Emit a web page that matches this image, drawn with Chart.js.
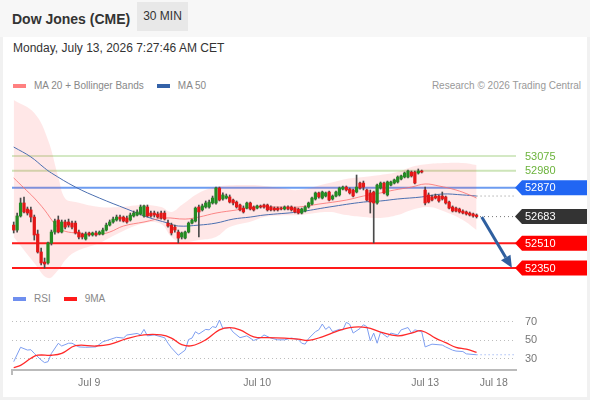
<!DOCTYPE html>
<html>
<head>
<meta charset="utf-8">
<script src="https://cdn.jsdelivr.net/npm/chart.js@4.4.1/dist/chart.umd.min.js"></script>
<style>
  body { margin: 0; width: 590px; height: 400px; background: #f1f1f1; font-family: "Liberation Sans", Arial, sans-serif; position: relative; overflow: hidden; }
  .header { position: absolute; left: 0; top: 0; width: 590px; height: 37px; background: #f7f7f7; }
  .title { position: absolute; left: 12px; top: 11px; font-size: 14px; font-weight: bold; color: #333; }
  .tf { position: absolute; left: 137px; top: 2px; width: 51px; height: 29px; line-height: 29px; text-align: center; background: #e8e8e8; font-size: 12px; color: #333; }
  .card { position: absolute; left: 3px; top: 37px; width: 584px; height: 360px; background: #fff; }
  .date { position: absolute; left: 13px; top: 41px; font-size: 12px; color: #333; }
  .legend { position: absolute; left: 13px; font-size: 10px; color: #888; display: flex; align-items: center; white-space: nowrap; }
  .legend .sw { display: inline-block; width: 13px; height: 4px; margin-right: 8px; }
  .legend .item { display: flex; align-items: center; margin-right: 13px; }
  .credit { position: absolute; right: 9px; top: 80px; font-size: 10px; color: #999; }
  canvas { position: absolute; left: 0; }
</style>
</head>
<body>
<div class="header">
  <div class="title">Dow Jones (CME)</div>
  <div class="tf">30 MIN</div>
</div>
<div class="card"></div>
<div class="date">Monday, July 13, 2026 7:27:46 AM CET</div>
<div class="legend" style="top:80px">
  <span class="item"><span class="sw" style="background:#ff8080"></span>MA 20 + Bollinger Bands</span>
  <span class="item"><span class="sw" style="background:#3462a8"></span>MA 50</span>
</div>
<div class="credit">Research © 2026 Trading Central</div>
<div class="legend" style="top:293px">
  <span class="item"><span class="sw" style="background:#6f8fef"></span>RSI</span>
  <span class="item"><span class="sw" style="background:#ff1a1a"></span>9MA</span>
</div>
<canvas id="priceChart" width="590" height="196" style="top:90px"></canvas>
<canvas id="rsiChart" width="590" height="90" style="top:305px"></canvas>

<script>
// 30-minute candles, oldest first
const openP = [52628,52596,52687,52771,52732,52726,52680,52570,52454,52389,52383,52512,52583,52661,52583,52648,52648,52641,52641,52583,
  52570,52538,52577,52564,52577,52570,52570,52596,52628,52648,52661,52680,52680,52674,52661,52687,52693,52700,52687,52745,
  52706,52706,52700,52706,52706,52641,52628,52615,52583,52551,52544,52583,52641,52654,52745,52726,52745,52745,52771,52771,
  52868,52797,52803,52810,52790,52777,52758,52738,52738,52771,52745,52738,52752,52758,52758,52745,52738,52738,52738,52732,
  52745,52745,52738,52732,52706,52719,52745,52764,52797,52836,52803,52816,52842,52797,52816,52823,52861,52874,52861,52855,
  52842,52900,52900,52855,52836,52842,52771,52868,52900,52823,52887,52900,52907,52926,52939,52939,52971,52971,52965,52978,
  52855,52823,52810,52816,52816,52816,52810,52777,52745,52738,52732,52719,52713,52706,52700,52693];
const highP = [52648,52706,52803,52810,52745,52745,52693,52596,52480,52415,52518,52596,52667,52687,52661,52661,52667,52654,52654,52596,
  52577,52583,52583,52583,52590,52590,52609,52641,52661,52680,52693,52693,52687,52687,52706,52719,52726,52758,52758,52758,
  52719,52719,52713,52719,52719,52661,52641,52628,52596,52583,52590,52648,52667,52745,52758,52764,52784,52790,52816,52874,
  52874,52836,52829,52823,52797,52784,52764,52752,52777,52777,52752,52758,52758,52764,52764,52752,52745,52745,52745,52752,
  52752,52752,52745,52738,52738,52752,52777,52810,52842,52842,52848,52842,52848,52823,52848,52874,52881,52881,52868,52861,
  52952,52907,52913,52861,52855,52848,52894,52907,52907,52913,52913,52926,52946,52952,52971,52984,52978,52978,52991,52984,
  52874,52836,52823,52829,52823,52842,52816,52784,52752,52745,52738,52726,52719,52713,52706,52700];
const lowP = [52577,52583,52680,52706,52693,52648,52531,52447,52370,52350,52376,52499,52570,52577,52577,52603,52615,52603,52570,52538,
  52538,52531,52557,52557,52557,52564,52564,52590,52622,52641,52654,52654,52648,52641,52654,52680,52687,52693,52680,52680,
  52680,52680,52674,52667,52661,52615,52564,52583,52512,52538,52538,52577,52635,52648,52551,52719,52738,52738,52764,52764,
  52784,52790,52797,52771,52758,52738,52719,52706,52732,52726,52719,52732,52738,52738,52719,52719,52719,52719,52726,52726,
  52726,52719,52706,52700,52700,52713,52738,52758,52790,52803,52797,52810,52784,52790,52810,52816,52855,52848,52829,52810,
  52836,52861,52855,52784,52706,52512,52764,52861,52829,52816,52881,52894,52900,52920,52933,52933,52939,52894,52958,52965,
  52758,52771,52784,52797,52777,52790,52764,52732,52713,52713,52706,52700,52693,52687,52680,52674];
const closeP = [52596,52687,52771,52713,52706,52680,52564,52454,52383,52376,52512,52583,52654,52583,52648,52615,52628,52615,52577,52551,
  52551,52570,52564,52577,52564,52583,52596,52628,52648,52667,52680,52667,52654,52648,52693,52706,52713,52745,52752,52687,
  52687,52693,52680,52674,52667,52622,52577,52596,52544,52577,52583,52641,52661,52738,52713,52752,52771,52777,52803,52868,
  52790,52823,52816,52777,52771,52745,52726,52713,52771,52732,52726,52752,52745,52745,52726,52726,52726,52726,52732,52745,
  52732,52726,52713,52706,52732,52745,52771,52803,52836,52810,52842,52836,52790,52816,52842,52868,52874,52855,52836,52816,
  52874,52868,52874,52790,52777,52771,52887,52900,52836,52907,52907,52920,52939,52946,52965,52978,52946,52900,52978,52971,
  52771,52777,52790,52803,52784,52797,52771,52738,52719,52719,52713,52706,52700,52693,52687,52683];

// indicator readings as [slot, value]
const ma20 = [[0,52933],[3,52868],[6,52803],[9,52726],[12,52635],[14,52596],[18,52577],[25,52570],[28,52583],[32,52622],
  [38,52648],[44,52674],[50,52667],[54,52680],[59,52706],[65,52726],[70,52745],[78,52745],[83,52745],[89,52764],
  [97,52790],[102,52816],[107,52836],[111,52855],[116,52874],[120,52894],[124,52881],[129,52855],[133,52823],[135,52803]];
const ma50 = [[0,53133],[5,53069],[9,52997],[11,52965],[18,52874],[25,52803],[33,52732],[39,52680],[45,52641],[48,52622],
  [54,52628],[59,52641],[64,52667],[69,52680],[73,52693],[83,52713],[92,52745],[102,52777],[107,52784],[112,52797],
  [119,52810],[125,52829],[131,52823],[135,52816]];
const bbSlots = [0,6,10,13,15,18,25,31,38,43,46,49,54,59,63,69,73,78,83,92,97,102,107,112,116,121,126,131,135];
const bbUpper = [53437,53353,53179,52939,52800,52777,52745,52745,52758,52745,52713,52758,52836,52874,52885,52887,52881,52868,52855,52900,
  52926,52939,52952,52971,53004,53023,53030,53030,53017];
const bbLower = [52551,52383,52285,52337,52400,52455,52512,52580,52640,52635,52551,52518,52531,52551,52615,52650,52680,52690,52693,52713,
  52693,52680,52674,52693,52726,52745,52713,52661,52596];

const rsi = [[0,26],[2,41.6],[4,38.6],[5,39],[6,35],[8,27.8],[9,25],[10,26],[11,35],[13,45.9],[14,43],[16,46],[17,46],[19,42],
  [21,41.6],[24,42],[26,47.6],[30,52.4],[32,51.6],[33,54.9],[36,56.6],[37,55],[38,61],[39,54],[41,55],[44,52],[45,46],[46,41],
  [48,33],[50,38.5],[51,50],[52,51.6],[53,58.5],[54,56],[56,61],[57,60.5],[58,64],[59,63],[60,71],[61,62],[63,63],[64,58],
  [66,52],[68,54],[70,49],[72,52],[73,55],[75,51.6],[77,49.7],[79,49.7],[81,51.6],[83,50],[84,46],[85,45],[86,51],[88,58.5],
  [89,60.5],[90,66.8],[91,61],[92,64],[93,58.5],[95,61],[96,60.5],[97,68.6],[98,66.5],[99,57],[101,62],[102,66],[103,64],
  [104,48.7],[105,57],[106,46],[107,58],[109,52.5],[110,57],[112,55],[113,60.5],[115,63],[116,57],[117,60.5],[119,58.5],
  [120,42],[122,45],[125,44],[126,42],[128,38.5],[129,37.5],[131,37],[132,34.5],[135,33.5]];
const rsiMa = [[0,19.5],[2,22],[5,29.7],[7,33],[11,33],[14,35],[18,43.3],[24,43],[28,44.8],[33,51],[38,55],[43,55],[46,51.6],
  [49,44.5],[52,43.3],[56,49.7],[60,60.5],[63,63],[66,60.5],[70,53],[74,52],[79,51.6],[83,50.5],[86,49],[90,53],[94,58.5],
  [98,63],[103,63],[107,58],[112,54],[116,57],[119,59.5],[123,51.6],[126,46.6],[129,41.6],[132,39.5],[135,36]];
const rsiTail = [[135,33.5],[146,33.5]];

const slotCount = 147;
const xTickSlots = [22, 71, 120, 140];
const xTickText = ["Jul 9", "Jul 10", "Jul 13", "Jul 18"];

const levelPrices = [53075, 52980, 52870, 52510, 52350];
const levelLine = ["#a9d38a", "#cde5b9", "#6d9cf0", "#ff1a1a", "#ff1a1a"];
const levelWidth = [1, 2, 2, 2, 2];
const levelTag = [null, null, "#2166f3", "#ff0000", "#ff0000"];
const ma50Tail = [[135,52816],[146,52816]];
const lastTail = [[136,52683],[146,52683]];
const arrowFrom = [136.5, 52680];
const arrowTo = [145.3, 52352];
const rsiLevels = [70, 50, 30];

Chart.defaults.font.family = "'Liberation Sans', Arial, sans-serif";

const slots = Array.from({ length: slotCount }, (_, i) => i);
const pts = arr => arr.map(([x, y]) => ({ x, y }));
const upColor = "#238b23";
const downColor = "#e31717";
const bodyColors = openP.map((o, i) => closeP[i] >= o ? upColor : downColor);

function drawTag(ctx, x, y, fill, text) {
  const h = 15, w = 72;
  ctx.beginPath();
  ctx.moveTo(x, y);
  ctx.lineTo(x + 7, y - h / 2);
  ctx.lineTo(x + w, y - h / 2);
  ctx.lineTo(x + w, y + h / 2);
  ctx.lineTo(x + 7, y + h / 2);
  ctx.closePath();
  ctx.fillStyle = fill;
  ctx.fill();
  ctx.fillStyle = "#fff";
  ctx.fillText(text, x + 10, y + 0.5);
}

const priceLevels = {
  id: "priceLevels",
  beforeDatasetsDraw(chart) {
    const { ctx, chartArea: a, scales: { y } } = chart;
    ctx.save();
    levelPrices.forEach((p, k) => {
      const py = y.getPixelForValue(p);
      ctx.strokeStyle = levelLine[k];
      ctx.lineWidth = levelWidth[k];
      ctx.beginPath();
      ctx.moveTo(a.left, py);
      ctx.lineTo(a.right, py);
      ctx.stroke();
    });
    ctx.restore();
  },
  afterDatasetsDraw(chart) {
    const { ctx, chartArea: a, scales: { x, y } } = chart;
    ctx.save();
    ctx.font = "11px 'Liberation Sans', Arial, sans-serif";
    ctx.textBaseline = "middle";
    levelPrices.forEach((p, k) => {
      const py = y.getPixelForValue(p);
      if (levelTag[k]) {
        drawTag(ctx, a.right - 1, py, levelTag[k], String(p));
      } else {
        ctx.fillStyle = "#6cb33c";
        ctx.fillText(String(p), a.right + 9, py + 0.5);
      }
    });
    const last = closeP[closeP.length - 1];
    drawTag(ctx, a.right - 1, y.getPixelForValue(last), "#333333", String(last));

    // forecast arrow
    const x0 = x.getPixelForValue(arrowFrom[0]), y0 = y.getPixelForValue(arrowFrom[1]);
    const x1 = x.getPixelForValue(arrowTo[0]), y1 = y.getPixelForValue(arrowTo[1]);
    const ang = Math.atan2(y1 - y0, x1 - x0);
    const hl = 12, hw = 5.5;
    const bx = x1 - hl * Math.cos(ang), by = y1 - hl * Math.sin(ang);
    ctx.strokeStyle = "#2f5f9f";
    ctx.fillStyle = "#2f5f9f";
    ctx.lineWidth = 3;
    ctx.beginPath();
    ctx.moveTo(x0, y0);
    ctx.lineTo(bx, by);
    ctx.stroke();
    ctx.beginPath();
    ctx.moveTo(x1, y1);
    ctx.lineTo(bx + hw * Math.sin(ang), by - hw * Math.cos(ang));
    ctx.lineTo(bx - hw * Math.sin(ang), by + hw * Math.cos(ang));
    ctx.closePath();
    ctx.fill();
    ctx.restore();
  }
};

new Chart(document.getElementById("priceChart"), {
  type: "bar",
  data: {
    labels: slots,
    datasets: [
      {
        label: "body",
        data: openP.map((o, i) => [o, closeP[i]]),
        backgroundColor: bodyColors,
        barThickness: 2.6,
        grouped: false,
        order: 0
      },
      {
        label: "wick",
        data: lowP.map((l, i) => [l, highP[i]]),
        backgroundColor: "#4a4a4a",
        barThickness: 1,
        grouped: false,
        order: 1
      },
      {
        type: "line",
        label: "MA 20",
        data: pts(ma20),
        borderColor: "rgba(250,110,110,0.8)",
        borderWidth: 1,
        pointRadius: 0,
        tension: 0.4,
        order: 2
      },
      {
        type: "line",
        label: "MA 50",
        data: pts(ma50),
        borderColor: "#4b6fb0",
        borderWidth: 1,
        pointRadius: 0,
        tension: 0.4,
        order: 3
      },
      {
        type: "line",
        label: "upper",
        data: bbSlots.map((s, i) => ({ x: s, y: bbUpper[i] })),
        borderWidth: 0,
        pointRadius: 0,
        tension: 0.4,
        fill: "+1",
        backgroundColor: "rgba(255,70,70,0.13)",
        order: 5
      },
      {
        type: "line",
        label: "lower",
        data: bbSlots.map((s, i) => ({ x: s, y: bbLower[i] })),
        borderWidth: 0,
        pointRadius: 0,
        tension: 0.4,
        order: 5
      },
      {
        type: "line",
        label: "ma50 tail",
        data: pts(ma50Tail),
        borderColor: "#8a8a8a",
        borderWidth: 1,
        borderDash: [1, 3],
        pointRadius: 0,
        order: 4
      },
      {
        type: "line",
        label: "last tail",
        data: pts(lastTail),
        borderColor: "#777",
        borderWidth: 1,
        borderDash: [1, 3],
        pointRadius: 0,
        order: 4
      }
    ]
  },
  options: {
    responsive: false,
    animation: false,
    layout: { padding: { left: 12, right: 74, top: 0, bottom: 0 } },
    plugins: {
      legend: { display: false },
      tooltip: { enabled: false }
    },
    scales: {
      x: { display: false, offset: true, grid: { offset: true } },
      y: { display: false, min: 52234, max: 53502 }
    }
  },
  plugins: [priceLevels]
});

const rsiGuides = {
  id: "rsiGuides",
  beforeDatasetsDraw(chart) {
    const { ctx, chartArea: a, scales: { y } } = chart;
    ctx.save();
    ctx.strokeStyle = "#bdbdbd";
    ctx.lineWidth = 1;
    ctx.setLineDash([1, 3]);
    rsiLevels.forEach(v => {
      const py = Math.round(y.getPixelForValue(v)) + 0.5;
      ctx.beginPath();
      ctx.moveTo(a.left, py);
      ctx.lineTo(a.right, py);
      ctx.stroke();
    });
    ctx.setLineDash([]);
    ctx.font = "11px 'Liberation Sans', Arial, sans-serif";
    ctx.fillStyle = "#777";
    ctx.textBaseline = "middle";
    rsiLevels.forEach(v => ctx.fillText(String(v), a.right + 9, y.getPixelForValue(v) + 0.5));
    ctx.restore();
  }
};

new Chart(document.getElementById("rsiChart"), {
  type: "line",
  data: {
    labels: slots,
    datasets: [
      { label: "9MA", data: pts(rsiMa), borderColor: "#ff2a2a", borderWidth: 1.3, pointRadius: 0, tension: 0.4 },
      { label: "RSI", data: pts(rsi), borderColor: "#7e9ef0", borderWidth: 1, pointRadius: 0, tension: 0 },
      { label: "RSI tail", data: pts(rsiTail), borderColor: "#7e9ef0", borderWidth: 1.2, borderDash: [1, 3], pointRadius: 0 }
    ]
  },
  options: {
    responsive: false,
    animation: false,
    layout: { padding: { left: 12, right: 74, top: 5, bottom: 0 } },
    plugins: {
      legend: { display: false },
      tooltip: { enabled: false }
    },
    scales: {
      x: {
        offset: true,
        afterFit: s => { s.height = 25; },
        grid: {
          offset: true,
          drawOnChartArea: false,
          drawTicks: true,
          tickLength: 5,
          lineWidth: 2,
          color: c => (c.index === 0 || c.index === slotCount) ? "#bbbbbb" : "rgba(0,0,0,0)"
        },
        border: { display: true, color: "#bbbbbb", width: 2 },
        ticks: {
          autoSkip: false,
          maxRotation: 0,
          minRotation: 0,
          padding: 2,
          color: "#777",
          font: { size: 10.5 },
          callback: (v, i) => {
            const k = xTickSlots.indexOf(i);
            return k >= 0 ? xTickText[k] : "";
          }
        }
      },
      y: { display: false, min: 17, max: 82 }
    }
  },
  plugins: [rsiGuides]
});
</script>
</body>
</html>
